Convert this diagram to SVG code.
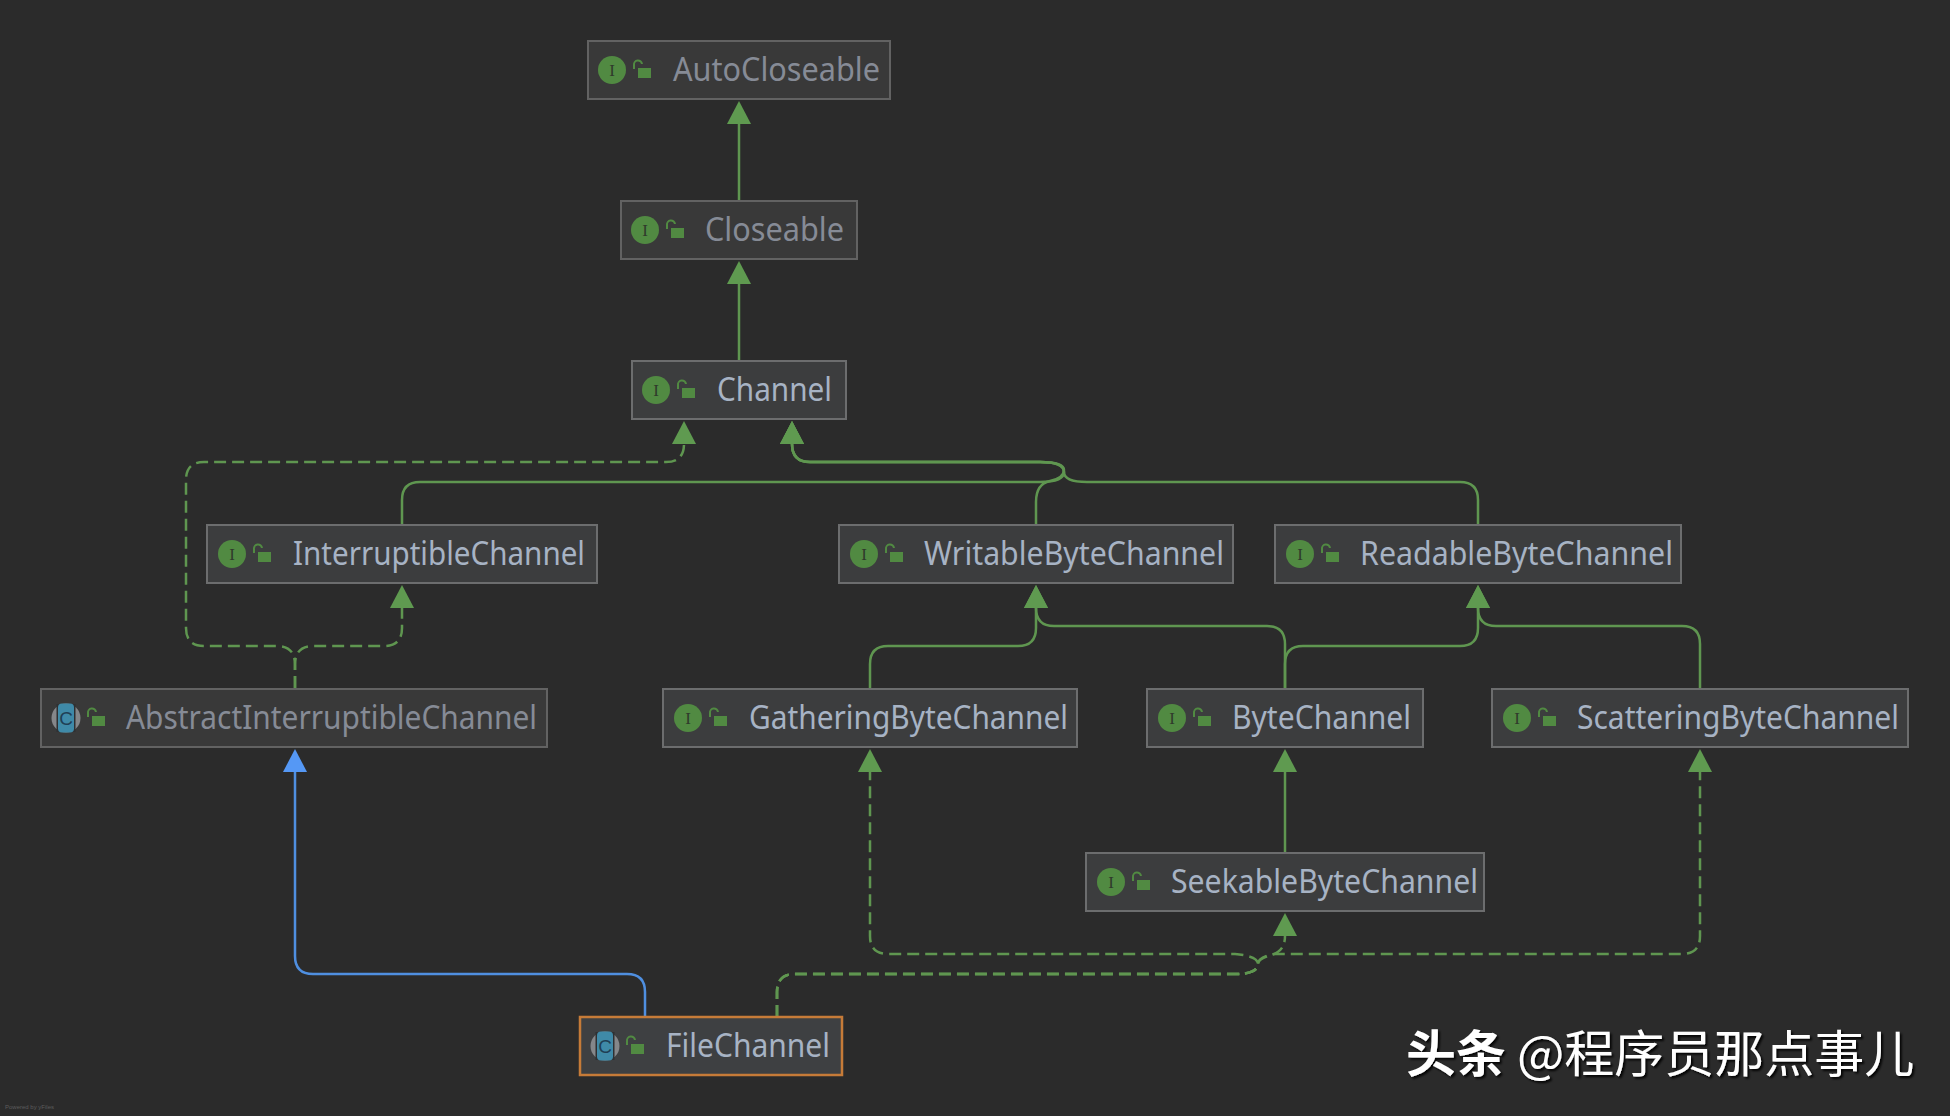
<svg xmlns="http://www.w3.org/2000/svg" xmlns:xlink="http://www.w3.org/1999/xlink" width="1950" height="1116" viewBox="0 0 1950 1116">
<style>
.n{fill:#3c3d3e;stroke:#6c6d6e;stroke-width:2}
.nd{fill:#393939;stroke:#626262;stroke-width:2}
.nf{fill:#3e4042;stroke:#c67b38;stroke-width:2.5}
.t{font-family:"Noto Sans","Open Sans",sans-serif;font-size:32px;fill:#a7b3c4}
.td{fill:#868b96}
.i{font-family:"Liberation Serif",serif;font-size:17px;fill:#2f3a2c;text-anchor:middle}
.c{font-family:"Liberation Sans",sans-serif;font-size:19px;fill:#1f3f55;text-anchor:middle}
.ib{fill:#518a42}
.e{fill:none;stroke:#5f9650;stroke-width:2.5}
.d{stroke-dasharray:12 6}
.b{fill:none;stroke:#4f8fe0;stroke-width:2.5}
.wm{font-family:"Noto Sans CJK SC",sans-serif;font-size:50px;fill:#fff;filter:url(#sh)}
.pw{font-family:"Liberation Sans",sans-serif;font-size:6px;fill:#5c5c5c}
</style>
<defs>
<marker id="ag" markerUnits="userSpaceOnUse" markerWidth="24" markerHeight="24" refX="0" refY="12" orient="auto"><polygon points="0,0 23,12 0,24" fill="#5f9a50"/></marker>
<marker id="ab" markerUnits="userSpaceOnUse" markerWidth="24" markerHeight="24" refX="0" refY="12" orient="auto"><polygon points="0,0 23,12 0,24" fill="#5598f5"/></marker>
<filter id="sh" x="-5%" y="-20%" width="110%" height="140%"><feDropShadow dx="2" dy="2" stdDeviation="1" flood-color="#000" flood-opacity="0.9"/></filter>
<g id="lock"><path d="M-8,-1 V-5 A4,4 0 0 1 0,-6" fill="none" stroke="#518a42" stroke-width="2"/><rect x="-4" y="-2" width="13" height="10" fill="#518a42"/></g>
<g id="cicon"><circle r="14.5" fill="#85878a"/><rect x="-9.5" y="-14" width="19" height="28" fill="#2f3032"/><rect x="-8" y="-14.5" width="16" height="29" rx="4" fill="#3f8aa8"/></g>
</defs>
<rect width="1950" height="1116" fill="#2b2b2b"/>
<g id="connectors">
<path class="e" marker-end="url(#ag)" d="M739 201V124"/>
<path class="e" marker-end="url(#ag)" d="M739 361V284"/>
<path class="e" marker-end="url(#ag)" d="M402 524V500Q402 482 420 482H1040Q1064 482 1064 472Q1064 462 1040 462H810Q792 462 792 444"/>
<path class="e" marker-end="url(#ag)" d="M1036 524V502Q1036 484 1050 481Q1064 478 1064 470Q1064 462 1040 462H810Q792 462 792 444"/>
<path class="e" marker-end="url(#ag)" d="M1478 524V500Q1478 482 1460 482H1087Q1064 482 1064 472Q1064 462 1040 462H810Q792 462 792 444"/>
<path class="e d" marker-end="url(#ag)" d="M295 688V665Q295 646 277 646H204Q186 646 186 628V480Q186 462 204 462H666Q684 462 684 444"/>
<path class="e d" marker-end="url(#ag)" d="M295 688V665Q295 646 313 646H384Q402 646 402 628V608"/>
<path class="e" marker-end="url(#ag)" d="M870 688V664Q870 646 888 646H1018Q1036 646 1036 628V608"/>
<path class="e" marker-end="url(#ag)" d="M1285 688V644Q1285 626 1267 626H1054Q1036 626 1036 608"/>
<path class="e" marker-end="url(#ag)" d="M1285 688V664Q1285 646 1303 646H1460Q1478 646 1478 628V608"/>
<path class="e" marker-end="url(#ag)" d="M1700 688V644Q1700 626 1682 626H1496Q1478 626 1478 608"/>
<path class="e" marker-end="url(#ag)" d="M1285 852V772"/>
<path class="e d" marker-end="url(#ag)" d="M777 1017V992Q777 974 795 974H1235Q1258 974 1258 964Q1258 956 1235 954H888Q870 954 870 936V772"/>
<path class="e d" marker-end="url(#ag)" d="M777 1017V992Q777 974 795 974H1235Q1258 974 1258 964Q1258 958 1275 954H1682Q1700 954 1700 936V772"/>
<path class="e d" marker-end="url(#ag)" d="M777 1017V992Q777 974 795 974H1235Q1258 974 1258 964Q1258 958 1270 955Q1285 952 1285 936"/>
<path class="b" marker-end="url(#ab)" d="M645 1017V992Q645 974 627 974H313Q295 974 295 956V772"/>
</g>
<g id="AutoCloseable"><rect class="nd" x="588" y="41" width="302" height="58"/><circle class="ib" cx="612" cy="70" r="14"/><text class="i" x="612" y="76">I</text><use href="#lock" x="642" y="70"/><text class="t td" x="673" y="81" textLength="207" lengthAdjust="spacingAndGlyphs">AutoCloseable</text></g>
<g id="Closeable"><rect class="nd" x="621" y="201" width="236" height="58"/><circle class="ib" cx="645" cy="230" r="14"/><text class="i" x="645" y="236">I</text><use href="#lock" x="675" y="230"/><text class="t td" x="705" y="241" textLength="139" lengthAdjust="spacingAndGlyphs">Closeable</text></g>
<g id="Channel"><rect class="n" x="632" y="361" width="214" height="58"/><circle class="ib" cx="656" cy="390" r="14"/><text class="i" x="656" y="396">I</text><use href="#lock" x="686" y="390"/><text class="t" x="717" y="401" textLength="115" lengthAdjust="spacingAndGlyphs">Channel</text></g>
<g id="InterruptibleChannel"><rect class="n" x="207" y="525" width="390" height="58"/><circle class="ib" cx="232" cy="554" r="14"/><text class="i" x="232" y="560">I</text><use href="#lock" x="262" y="554"/><text class="t" x="293" y="565" textLength="292" lengthAdjust="spacingAndGlyphs">InterruptibleChannel</text></g>
<g id="WritableByteChannel"><rect class="n" x="839" y="525" width="394" height="58"/><circle class="ib" cx="864" cy="554" r="14"/><text class="i" x="864" y="560">I</text><use href="#lock" x="894" y="554"/><text class="t" x="924" y="565" textLength="300" lengthAdjust="spacingAndGlyphs">WritableByteChannel</text></g>
<g id="ReadableByteChannel"><rect class="n" x="1275" y="525" width="406" height="58"/><circle class="ib" cx="1300" cy="554" r="14"/><text class="i" x="1300" y="560">I</text><use href="#lock" x="1330" y="554"/><text class="t" x="1360" y="565" textLength="313" lengthAdjust="spacingAndGlyphs">ReadableByteChannel</text></g>
<g id="AbstractInterruptibleChannel"><rect class="nd" x="41" y="689" width="506" height="58"/><use href="#cicon" x="66" y="718"/><text class="c" x="66" y="725">C</text><use href="#lock" x="96" y="718"/><text class="t td" x="126" y="729" textLength="411" lengthAdjust="spacingAndGlyphs">AbstractInterruptibleChannel</text></g>
<g id="GatheringByteChannel"><rect class="n" x="663" y="689" width="414" height="58"/><circle class="ib" cx="688" cy="718" r="14"/><text class="i" x="688" y="724">I</text><use href="#lock" x="718" y="718"/><text class="t" x="749" y="729" textLength="319" lengthAdjust="spacingAndGlyphs">GatheringByteChannel</text></g>
<g id="ByteChannel"><rect class="n" x="1147" y="689" width="276" height="58"/><circle class="ib" cx="1172" cy="718" r="14"/><text class="i" x="1172" y="724">I</text><use href="#lock" x="1202" y="718"/><text class="t" x="1232" y="729" textLength="179" lengthAdjust="spacingAndGlyphs">ByteChannel</text></g>
<g id="ScatteringByteChannel"><rect class="n" x="1492" y="689" width="416" height="58"/><circle class="ib" cx="1517" cy="718" r="14"/><text class="i" x="1517" y="724">I</text><use href="#lock" x="1547" y="718"/><text class="t" x="1577" y="729" textLength="322" lengthAdjust="spacingAndGlyphs">ScatteringByteChannel</text></g>
<g id="SeekableByteChannel"><rect class="n" x="1086" y="853" width="398" height="58"/><circle class="ib" cx="1111" cy="882" r="14"/><text class="i" x="1111" y="888">I</text><use href="#lock" x="1141" y="882"/><text class="t" x="1171" y="893" textLength="307" lengthAdjust="spacingAndGlyphs">SeekableByteChannel</text></g>
<g id="FileChannel"><rect class="nf" x="580" y="1017" width="262" height="58"/><use href="#cicon" x="605" y="1046"/><text class="c" x="605" y="1053">C</text><use href="#lock" x="635" y="1046"/><text class="t" x="666" y="1057" textLength="164" lengthAdjust="spacingAndGlyphs">FileChannel</text></g>
<text class="wm" x="1406" y="1072" style="font-weight:700">头条</text>
<text class="wm" x="1517" y="1072">@程序员那点事儿</text>
<text class="pw" x="5" y="1109">Powered by yFiles</text>
</svg>
